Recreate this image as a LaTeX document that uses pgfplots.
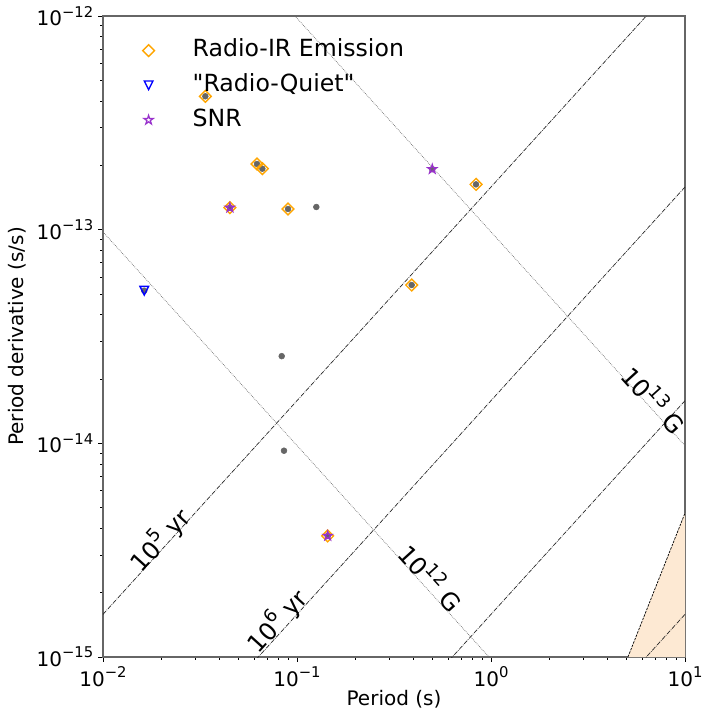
\documentclass[border=0pt]{standalone}
\usepackage{fontspec}
\setmainfont{DejaVu Sans}[Ligatures=TeXOff]
\usepackage{graphicx}
\usepackage{pgfplots}
\pgfplotsset{compat=1.18}

\definecolor{mplorange}{HTML}{FFA500}
\definecolor{snrpurple}{HTML}{9932CC}
\definecolor{dotgray}{HTML}{666666}
\definecolor{peach}{RGB}{253,233,211}

% matplotlib-like open markers
\pgfdeclareplotmark{tridown}{%
  \pgfpathmoveto{\pgfpoint{0pt}{-\pgfplotmarksize}}%
  \pgfpathlineto{\pgfpoint{-\pgfplotmarksize}{\pgfplotmarksize}}%
  \pgfpathlineto{\pgfpoint{\pgfplotmarksize}{\pgfplotmarksize}}%
  \pgfpathclose\pgfusepathqstroke}
\pgfdeclareplotmark{fivestar}{%
  \pgfpathmoveto{\pgfpointpolar{90}{\pgfplotmarksize}}%
  \pgfpathlineto{\pgfpointpolar{126}{0.382\pgfplotmarksize}}%
  \pgfpathlineto{\pgfpointpolar{162}{\pgfplotmarksize}}%
  \pgfpathlineto{\pgfpointpolar{198}{0.382\pgfplotmarksize}}%
  \pgfpathlineto{\pgfpointpolar{234}{\pgfplotmarksize}}%
  \pgfpathlineto{\pgfpointpolar{270}{0.382\pgfplotmarksize}}%
  \pgfpathlineto{\pgfpointpolar{306}{\pgfplotmarksize}}%
  \pgfpathlineto{\pgfpointpolar{342}{0.382\pgfplotmarksize}}%
  \pgfpathlineto{\pgfpointpolar{18}{\pgfplotmarksize}}%
  \pgfpathlineto{\pgfpointpolar{54}{0.382\pgfplotmarksize}}%
  \pgfpathclose\pgfusepathqstroke}

\newcommand{\ticksz}{\fontsize{14.4}{17}\selectfont}
\newcommand{\bigsz}{\fontsize{17.5}{20}\selectfont}
\newcommand{\sups}[1]{\raisebox{0.43em}{\scalebox{0.74}{#1}}}

\pgfplotsset{
  bfield/.style={gray!85!black, line width=0.5pt, dash pattern=on 0.5pt off 0.8pt, forget plot},
  agel/.style={black!85, line width=0.5pt, dash pattern=on 3.2pt off 0.8pt on 0.5pt off 0.8pt, forget plot},
}

\begin{document}
\begin{tikzpicture}
\begin{axis}[
  scale only axis, width=419.04pt, height=461.52pt,
  xmode=log, ymode=log,
  xmin=1e-2, xmax=10, ymin=1e-15, ymax=1e-12,
  clip mode=individual,
  tick pos=left, tick align=outside,
  major tick length=3.5pt, minor tick length=2pt,
  every tick/.style={black, line width=0.6pt},
  axis line style={black!60, line width=0.8pt},
  xtick={0.01,0.1,1,10},
  xticklabels={10\sups{−2},10\sups{−1},10\sups{0},10\sups{1}},
  minor xtick={0.02,0.03,0.04,0.05,0.06,0.07,0.08,0.09,0.2,0.3,0.4,0.5,0.6,0.7,0.8,0.9,2,3,4,5,6,7,8,9},
  ytick={1e-15,1e-14,1e-13,1e-12},
  yticklabels={10\sups{−15},10\sups{−14},10\sups{−13},10\sups{−12}},
  minor ytick={2e-15,3e-15,4e-15,5e-15,6e-15,7e-15,8e-15,9e-15,2e-14,3e-14,4e-14,5e-14,6e-14,7e-14,8e-14,9e-14,2e-13,3e-13,4e-13,5e-13,6e-13,7e-13,8e-13,9e-13},
  ticklabel style={font=\ticksz},
  xlabel={Period (s)}, ylabel={Period derivative (s/s)},
  label style={font=\ticksz},
  xlabel style={at={(axis description cs:0.5,-0.0655)}, anchor=center},
  ylabel style={at={(axis description cs:-0.147,0.5)}, anchor=center},
  legend style={draw=none, fill=none, font=\fontsize{17}{20}\selectfont,
    at={(axis description cs:0,1)}, anchor=north west, xshift=25.4pt, yshift=-13.2pt,
    nodes={text height=12.5pt, text depth=3.5pt, inner sep=1.5pt},
    row sep=6pt,
    /tikz/every odd column/.append style={column sep=26pt}},
  legend cell align=left,
]
\coordinate (sw) at (rel axis cs:0,0);
\coordinate (ne) at (rel axis cs:1,1);

% shaded region at bottom right
\addplot[fill=peach, draw=none, forget plot] coordinates {(5.08,1e-15) (10,4.72e-15) (10,1e-15)} -- cycle;
\addplot[black, line width=0.5pt, dash pattern=on 1.8pt off 0.8pt, forget plot] coordinates {(5.08,1e-15) (10,4.72e-15)};

% constant field lines
\addplot[bfield] coordinates {(0.01,9.766e-14) (10,9.766e-17)};
\addplot[bfield] coordinates {(0.01,9.766e-12) (10,9.766e-15)};
% constant age lines
\addplot[agel] coordinates {(0.01,1.5843e-15) (10,1.5843e-12)};
\addplot[agel] coordinates {(0.01,1.5843e-16) (10,1.5843e-13)};
\addplot[agel] coordinates {(0.01,1.5843e-17) (10,1.5843e-14)};
\addplot[agel] coordinates {(0.01,1.5843e-18) (10,1.5843e-15)};

% all pulsars
\addplot[only marks, mark=*, mark size=2.1pt, dotgray, mark options={draw=none, fill=dotgray}, forget plot] coordinates {
  (0.0337,4.21e-13) (0.0622,2.03e-13) (0.0663,1.93e-13) (0.0451,1.268e-13)
  (0.0899,1.25e-13) (0.1258,1.277e-13) (0.498,1.92e-13) (0.837,1.63e-13)
  (0.390,5.51e-14) (0.01632,5.18e-14) (0.0834,2.56e-14) (0.0857,9.24e-15)
  (0.1440,3.69e-15)};

% Radio-IR emission
\addplot[only marks, mark=square, mark size=3pt, mplorange, line width=1pt, mark options={rotate=45, fill=none}] coordinates {
  (0.0337,4.21e-13) (0.0622,2.03e-13) (0.0663,1.93e-13) (0.0451,1.268e-13)
  (0.0899,1.25e-13) (0.837,1.63e-13) (0.390,5.51e-14) (0.1440,3.69e-15)};
\addlegendentry{Radio-IR Emission}

% radio-quiet
\addplot[only marks, mark=tridown, mark size=3.1pt, blue, line width=1pt] coordinates {
  (0.01632,5.18e-14)};
\addlegendentry{"Radio-Quiet"}

% SNR
\addplot[only marks, mark=fivestar, mark size=3.4pt, snrpurple, line width=0.9pt] coordinates {
  (0.0451,1.268e-13) (0.498,1.92e-13) (0.1440,3.69e-15)};
\addlegendentry{SNR}

% line labels
\node[rotate=47.8, font=\bigsz] at (axis cs:0.01968,3.53e-15) {10\sups{5} yr};
\node[rotate=47.8, font=\bigsz] at (axis cs:0.0789,1.476e-15) {10\sups{6} yr};
\node[rotate=-47.8, font=\bigsz] at (axis cs:0.4966,2.37e-15) {10\sups{12} G};
\node[rotate=-47.8, font=\bigsz] at (axis cs:7.0,1.614e-14) {10\sups{13} G};
\end{axis}
\pgfresetboundingbox
\path ([shift={(-74.16pt,-43.2pt)}]sw) rectangle ([shift={(13.68pt,11.52pt)}]ne);
\end{tikzpicture}
\end{document}
